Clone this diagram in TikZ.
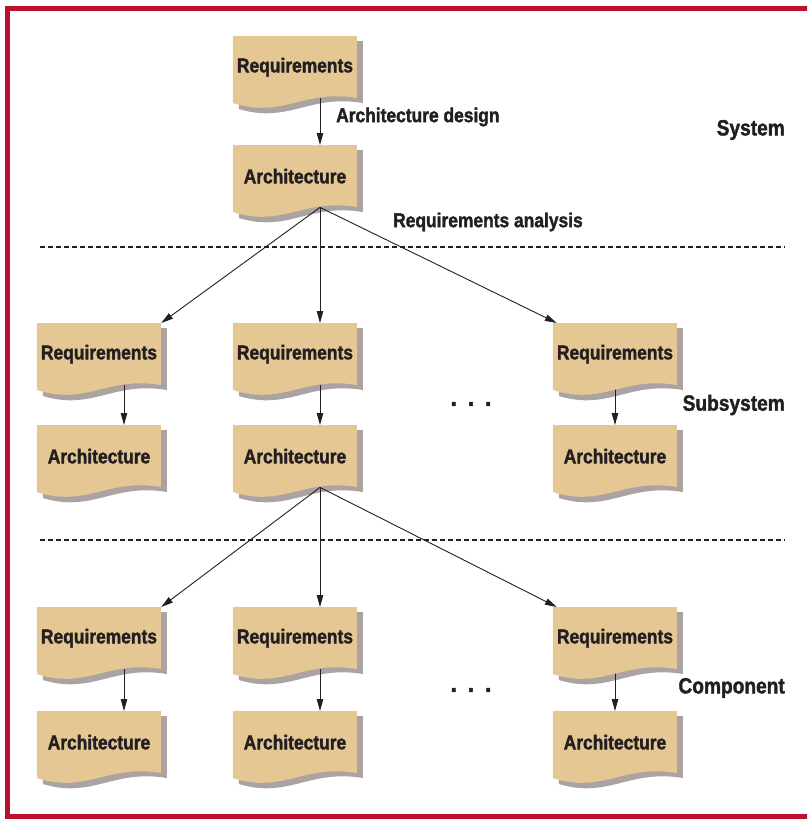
\documentclass[tikz,border=0pt]{standalone}
\usepackage{fontspec}
\setmainfont{Liberation Sans}[FakeStretch=0.87,BoldFeatures={FakeBold=1.6}]
\usetikzlibrary{arrows.meta,calc}
\definecolor{framered}{HTML}{B8102E}
\definecolor{doctan}{HTML}{E5C794}
\definecolor{docshadow}{HTML}{ABA2A2}
\definecolor{inkc}{HTML}{231F20}
\pgfdeclarelayer{shadowlayer}
\pgfdeclarelayer{arrowlayer}
\pgfdeclarelayer{doclayer}
\pgfsetlayers{shadowlayer,arrowlayer,doclayer,main}
\tikzset{
  docbox/.style={minimum width=124pt,minimum height=62pt,inner sep=0pt,anchor=north,
    font=\bfseries\fontsize{20}{24}\selectfont,text=inkc},
  lbl/.style={font=\bfseries\fontsize{20}{24}\selectfont,inner sep=0pt,text=inkc},
  levellbl/.style={font=\bfseries\fontsize{22}{26}\selectfont,inner sep=0pt,anchor=east,text=inkc},
  dotlbl/.style={font=\bfseries\fontsize{26}{30}\selectfont,inner sep=0pt,text=inkc},
  link/.style={line width=0.9pt,draw=inkc,-{Triangle[length=12pt,width=6.5pt]}},
  sepline/.style={line width=2.2pt,draw=inkc,dash pattern=on 5pt off 3pt},
  docshape/.pic={
    \begin{pgfonlayer}{shadowlayer}
      \fill[docshadow] (6,5) -- (130,5) -- (130,67) .. controls (76,58) and (56,88) .. (6,73) -- cycle;
    \end{pgfonlayer}
    \begin{pgfonlayer}{doclayer}
      \fill[doctan] (0,0) -- (124,0) -- (124,62) .. controls (70,53) and (50,83) .. (0,67) -- cycle;
    \end{pgfonlayer}
  }
}
\begin{document}
\begin{tikzpicture}[x=1pt,y=-1pt]
\useasboundingbox (0,0) rectangle (807,819);
\clip (0,0) rectangle (807,819);
% frame
\draw[framered,line width=5pt] (830,816.5) -- (7.5,816.5) -- (7.5,8) -- (830,8);
% separators
\draw[sepline] (40,247) -- (785,247);
\draw[sepline] (40,540) -- (785,540);
% documents
\node[docbox] (R0) at (295,36) {Requirements};
\node[docbox] (A0) at (295,145) {Architecture};
\node[docbox] (R21) at (99,323) {Requirements};
\node[docbox] (R22) at (295,323) {Requirements};
\node[docbox] (R23) at (615,323) {Requirements};
\node[docbox] (A21) at (99,425) {Architecture};
\node[docbox] (A22) at (295,425) {Architecture};
\node[docbox] (A23) at (615,425) {Architecture};
\node[docbox] (R31) at (99,607) {Requirements};
\node[docbox] (R32) at (295,607) {Requirements};
\node[docbox] (R33) at (615,607) {Requirements};
\node[docbox] (A31) at (99,711) {Architecture};
\node[docbox] (A32) at (295,711) {Architecture};
\node[docbox] (A33) at (615,711) {Architecture};
\foreach \n in {R0,A0,R21,R22,R23,A21,A22,A23,R31,R32,R33,A31,A32,A33}
  \pic at (\n.north west) {docshape};
% labels
\node[lbl,anchor=west] (ad) at (336,117) {Architecture design};
\node[lbl,anchor=west] (ra) at (393,222) {Requirements analysis};
\node[levellbl] (sys) at (785,130) {System};
\node[levellbl] (sub) at (785,405) {Subsystem};
\node[levellbl] (comp) at (785,688) {Component};
\node[dotlbl] (dots2) at (471,404) {.\hspace{11pt}.\hspace{11pt}.};
\node[dotlbl] (dots3) at (471,690) {.\hspace{11pt}.\hspace{11pt}.};
% connectors
\begin{pgfonlayer}{arrowlayer}
\draw[link] ([xshift=25pt]R0.south) -- ([xshift=25pt]A0.north);
\draw[link] ([xshift=25pt]A0.south) -- (R21.north east);
\draw[link] ([xshift=25pt]A0.south) -- ([xshift=25pt]R22.north);
\draw[link] ([xshift=25pt]A0.south) -- ([xshift=4pt]R23.north west);
\draw[link] ([xshift=25pt]R21.south) -- ([xshift=25pt]A21.north);
\draw[link] ([xshift=25pt]R22.south) -- ([xshift=25pt]A22.north);
\draw[link] (R23.south) -- (A23.north);
\draw[link] ([xshift=25pt]A22.south) -- (R31.north east);
\draw[link] ([xshift=25pt]A22.south) -- ([xshift=25pt]R32.north);
\draw[link] ([xshift=25pt]A22.south) -- ([xshift=4pt]R33.north west);
\draw[link] ([xshift=25pt]R31.south) -- ([xshift=25pt]A31.north);
\draw[link] ([xshift=25pt]R32.south) -- ([xshift=25pt]A32.north);
\draw[link] (R33.south) -- (A33.north);
\end{pgfonlayer}
\end{tikzpicture}
\end{document}
